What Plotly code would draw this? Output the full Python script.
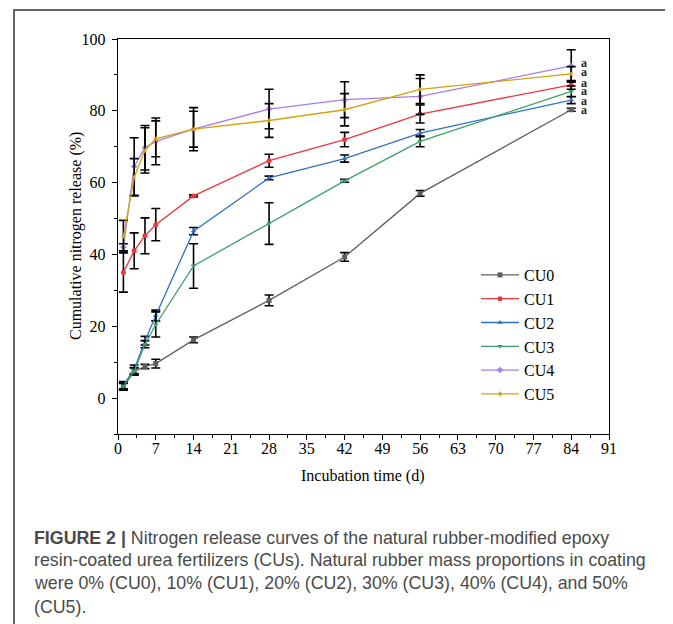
import plotly.graph_objects as go

# ---------------- data ----------------
days = [1, 3, 5, 7, 14, 28, 42, 56, 84]
series_names = ["CU0", "CU1", "CU2", "CU3", "CU4", "CU5"]

cu0 = [3.2, 7.4, 8.8, 9.6, 16.2, 27.2, 39.3, 57.0, 80.3]
cu0_err = [1.0, 1.0, 0.6, 1.2, 0.8, 1.5, 1.2, 0.8, 0.4]
cu1 = [35.0, 41.0, 45.2, 48.3, 56.3, 66.1, 72.0, 79.1, 87.2]
cu1_err = [5.5, 5.0, 5.0, 4.5, 0.3, 1.8, 2.0, 2.5, 1.2]
cu2 = [3.6, 8.0, 16.0, 23.0, 46.5, 61.3, 66.7, 73.8, 83.0]
cu2_err = [1.0, 1.2, 1.2, 1.5, 1.0, 0.5, 1.0, 1.0, 1.0]
cu3 = [3.3, 7.5, 15.0, 20.5, 36.8, 48.6, 60.5, 71.5, 85.4]
cu3_err = [0.8, 1.0, 1.0, 3.5, 6.2, 5.8, 0.4, 1.5, 1.5]
cu4 = [42.0, 64.5, 69.7, 71.5, 74.9, 80.5, 83.1, 84.0, 92.5]
cu4_err = [1.0, 8.0, 6.2, 6.5, 6.0, 5.5, 5.0, 5.0, 4.5]
cu5 = [45.0, 61.5, 69.0, 72.2, 74.9, 77.3, 80.3, 86.0, 90.3]
cu5_err = [4.5, 5.2, 6.3, 5.0, 5.0, 4.7, 4.5, 4.0, 2.0]

values = [cu0, cu1, cu2, cu3, cu4, cu5]
errors = [cu0_err, cu1_err, cu2_err, cu3_err, cu4_err, cu5_err]
letters = ["a", "a", "a", "a", "a", "a"]
letter_y = [80.3, 87.7, 82.8, 85.4, 93.3, 90.8]

x_ticks = [0, 7, 14, 21, 28, 35, 42, 49, 56, 63, 70, 77, 84, 91]
y_ticks = [0, 20, 40, 60, 80, 100]

x_title = "Incubation time (d)"
y_title = "Cumulative nitrogen release (%)"
caption_lines = [
    "<b>FIGURE 2 |</b> Nitrogen release curves of the natural rubber-modified epoxy",
    "resin-coated urea fertilizers (CUs). Natural rubber mass proportions in coating",
    "were 0% (CU0), 10% (CU1), 20% (CU2), 30% (CU3), 40% (CU4), and 50%",
    "(CU5).",
]

# ---------------- style ----------------
colors = ["#5e5e5e", "#e8393f", "#2f72c8", "#3d9f6b", "#a77fe0", "#d4a20f"]
symbols = ["square", "circle", "triangle-up", "triangle-down", "diamond", "triangle-left"]

OFF = 8  # page body margin
W, H = 673 - OFF, 624 - OFF
L, T = 118 - OFF, 39 - OFF
R = W - (609 - OFF)
B = H - (434 - OFF)
PW, PH = W - L - R, H - T - B


def px(x):
    """reference-picture x pixel -> paper coordinate"""
    return (x - OFF - L) / PW


def py(y):
    """reference-picture y pixel -> paper coordinate"""
    return (H - B - (y - OFF)) / PH


SERIF = "Liberation Serif, Times New Roman, serif"
SANS = "Liberation Sans, Arial, sans-serif"

fig = go.Figure()
for name, vals, errs, col, sym in zip(series_names, values, errors, colors, symbols):
    fig.add_trace(go.Scatter(
        x=days, y=vals, name=name, mode="lines+markers",
        line=dict(color=col, width=1.3),
        marker=dict(color=col, size=5, symbol=sym),
        error_y=dict(type="data", array=errs, color="black", thickness=1.6, width=4.5),
    ))

# significance letters at the last time point
for ly, letter in zip(letter_y, letters):
    fig.add_annotation(
        x=days[-1] + 1.6, y=ly, text="<b>" + letter + "</b>", showarrow=False,
        xref="x", yref="y", xanchor="left", yanchor="middle",
        font=dict(family=SERIF, size=12, color="#222222"), borderpad=0,
    )

# axis titles
fig.add_annotation(x=px(363), y=py(476), xref="paper", yref="paper", text=x_title,
                   showarrow=False, xanchor="center", yanchor="middle",
                   font=dict(family=SERIF, size=16, color="black"))
fig.add_annotation(x=px(76), y=py(236), xref="paper", yref="paper", text=y_title,
                   showarrow=False, xanchor="center", yanchor="middle", textangle=-90,
                   font=dict(family=SERIF, size=16, color="black"))

# caption
cap_y = [538, 560, 583, 607]
for line, yy in zip(caption_lines, cap_y):
    fig.add_annotation(
        x=px(32), y=py(yy), xref="paper", yref="paper", text=line,
        showarrow=False, xanchor="left", yanchor="middle", align="left",
        font=dict(family=SANS, size=17.8, color="#4a4a4a"),
    )

# outer frame
fig.add_shape(type="rect", xref="paper", yref="paper",
              x0=px(14), x1=px(670), y0=py(650), y1=py(10),
              line=dict(color="#333333", width=1.5), layer="below")

axis_common = dict(
    showline=True, linecolor="black", linewidth=1.4, mirror=True,
    ticks="outside", ticklen=5, tickwidth=1.2, tickcolor="black",
    showgrid=False, zeroline=False,
    tickfont=dict(family=SERIF, size=16, color="black"),
)

fig.update_xaxes(
    range=[0, 91], tickvals=x_ticks, ticklabelstandoff=-5,
    minor=dict(ticks="outside", ticklen=3, tickcolor="black", dtick=3.5, tick0=0),
    **axis_common,
)
fig.update_yaxes(
    range=[-10, 100], tickvals=y_ticks, ticklabelstandoff=3,
    minor=dict(ticks="outside", ticklen=3, tickcolor="black", dtick=10, tick0=0),
    **axis_common,
)

fig.update_layout(
    width=W, height=H,
    margin=dict(l=L, r=R, t=T, b=B, autoexpand=False),
    paper_bgcolor="white", plot_bgcolor="white",
    legend=dict(
        x=px(476), y=py(258), xanchor="left", yanchor="top",
        font=dict(family=SERIF, size=16, color="black"),
        bgcolor="rgba(0,0,0,0)", tracegroupgap=0, itemwidth=38,
    ),
    showlegend=True,
)

fig.write_html("out.html")
